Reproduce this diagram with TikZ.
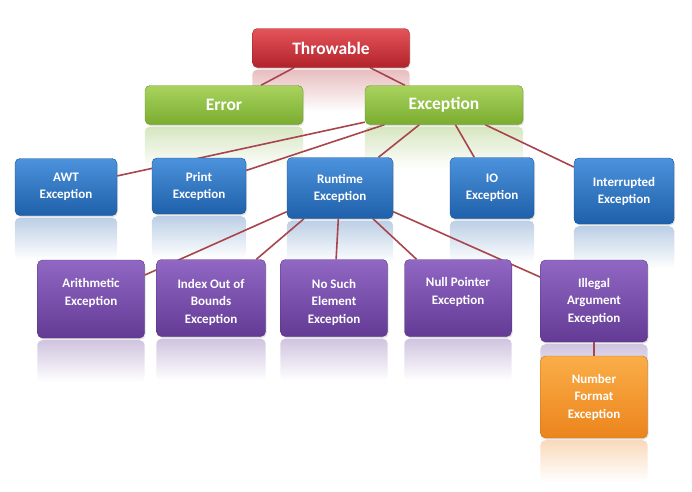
\documentclass[tikz,border=0pt]{standalone}
\usepackage{fontspec}
\setmainfont{Carlito}
\usetikzlibrary{backgrounds,shadows,fadings}

\definecolor{thrTop}{HTML}{E5545A}
\definecolor{thrBot}{HTML}{B2222A}
\definecolor{errTop}{HTML}{A9D35E}
\definecolor{errBot}{HTML}{7AAC2F}
\definecolor{excTop}{HTML}{4C92DC}
\definecolor{excBot}{HTML}{1F60AA}
\definecolor{rtTop}{HTML}{9068C4}
\definecolor{rtBot}{HTML}{633B95}
\definecolor{nfTop}{HTML}{FAAE48}
\definecolor{nfBot}{HTML}{EC841C}
\definecolor{linkcol}{HTML}{A8444C}

% faded mirror below a box
\newcommand{\mirror}[2]{%
  \fill[#2!30, path fading=south, rounded corners=5pt]
    ([yshift=-2pt]#1.south west) rectangle ([yshift=-44pt]#1.south east);}
% pushes a text block down a little
\newcommand{\lowtop}{\rule{0pt}{18pt}}

\begin{document}
\begin{tikzpicture}[x=1pt, y=-1pt,
    box/.style={rounded corners=5pt, text=white, align=center,
      inner sep=2pt, drop shadow={opacity=0.25, shadow xshift=1pt, shadow yshift=-1.5pt}},
    redbox/.style={box, top color=thrTop, bottom color=thrBot, draw=thrBot!85!black, font=\bfseries\fontsize{17.5}{20}\selectfont},
    greenbox/.style={box, top color=errTop, bottom color=errBot, draw=errBot!85!black, font=\bfseries\fontsize{17.5}{20}\selectfont},
    bluebox/.style={box, top color=excTop, bottom color=excBot, draw=excBot!85!black, font=\bfseries\fontsize{13}{17}\selectfont},
    purplebox/.style={box, top color=rtTop, bottom color=rtBot, draw=rtBot!85!black, font=\bfseries\fontsize{13}{17.5}\selectfont},
    orangebox/.style={box, top color=nfTop, bottom color=nfBot, draw=nfBot!85!black, font=\bfseries\fontsize{13}{17.5}\selectfont},
    link/.style={draw=linkcol, line width=1.6pt}]
    \useasboundingbox (0,0) rectangle (692,491);

    \node[redbox, minimum width=157pt, minimum height=39pt] (throwable) at (331,48) {Throwable};

    \node[greenbox, minimum width=158pt, minimum height=39pt] (error) at (224,105) {Error};
    \node[greenbox, minimum width=158pt, minimum height=39pt] (exception) at (444,105) {Exception};

    \node[bluebox, minimum width=102pt, minimum height=57pt] (awt) at (66,187) {AWT\\Exception};
    \node[bluebox, minimum width=94pt, minimum height=56pt] (print) at (199,186) {Print\\Exception};
    \node[bluebox, minimum width=106pt, minimum height=61pt] (runtime) at (340,188) {Runtime\\Exception};
    \node[bluebox, minimum width=84pt, minimum height=61pt] (io) at (492,188) {IO\\Exception};
    \node[bluebox, minimum width=100pt, minimum height=66pt] (interrupted) at (624,191) {Interrupted\\Exception};

    \node[purplebox, minimum width=107pt, minimum height=78pt] (arith) at (91,299) {\lowtop Arithmetic\\Exception\\\strut};
    \node[purplebox, minimum width=109pt, minimum height=77pt] (index) at (211,298) {\lowtop Index Out of\\Bounds\\Exception};
    \node[purplebox, minimum width=107pt, minimum height=77pt] (nosuch) at (334,298) {\lowtop No Such\\Element\\Exception};
    \node[purplebox, minimum width=107pt, minimum height=77pt] (nullptr) at (458,298) {\lowtop Null Pointer\\Exception\\\strut};
    \node[purplebox, minimum width=107pt, minimum height=82pt] (illegal) at (594,301) {Illegal\\Argument\\Exception};

    \node[orangebox, minimum width=107pt, minimum height=82pt] (numfmt) at (594,397) {Number\\Format\\Exception};

    \begin{scope}[on background layer]
        \mirror{throwable}{thrBot}
        \mirror{error}{errBot}
        \mirror{exception}{errBot}
        \foreach \b in {awt, print, runtime, io, interrupted}
            {\mirror{\b}{excBot}}
        \foreach \b in {arith, index, nosuch, nullptr, illegal}
            {\mirror{\b}{rtBot}}
        \mirror{numfmt}{nfBot}

        \draw[link] (throwable) -- (error);
        \draw[link] (throwable) -- (exception);
        \foreach \b in {awt, print, runtime, io, interrupted}
            {\draw[link] (exception) -- (\b);}
        \foreach \b in {arith, index, nosuch, nullptr, illegal}
            {\draw[link] (runtime) -- (\b);}
        \draw[link] (illegal) -- (numfmt);
    \end{scope}

\end{tikzpicture}
\end{document}
